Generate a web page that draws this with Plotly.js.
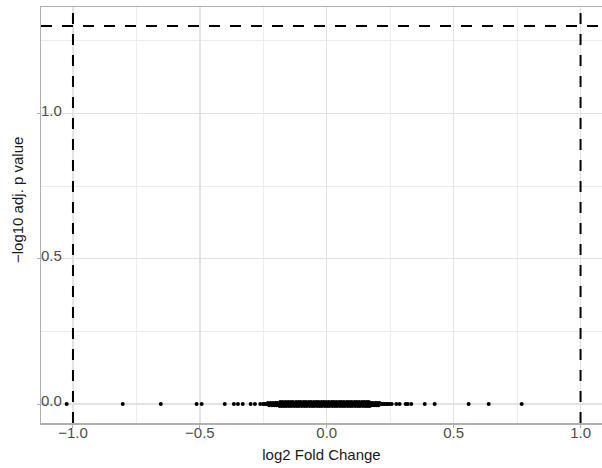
<!DOCTYPE html>
<html>
<head>
<meta charset="utf-8">
<script src="https://cdn.plot.ly/plotly-3.0.1.min.js"></script>
<style>html,body{margin:0;padding:0;overflow:hidden;background:#fff;}</style>
</head>
<body>
<div id="chart" style="width:602px;height:468px;"></div>
<script>
// Isolated genes (log2 fold change, -log10 adjusted p value)
const outlierFC = [-1.025, -0.804, -0.654, -0.513, -0.493, -0.402, -0.366, -0.350, -0.331, -0.300, -0.283, -0.262, -0.238,
                   0.256, 0.274, 0.287, 0.311, 0.319, 0.333, 0.386, 0.425, 0.559, 0.638, 0.768];
const outlierP  = [0, 0, 0, 0, 0, 0, 0, 0, 0, 0, 0, 0, 0,
                   0, 0, 0, 0, 0, 0, 0, 0, 0, 0, 0];
// Dense core of genes around zero (slightly jittered vertically)
const coreFC = [-0.251, -0.245, -0.239, -0.232, -0.227, -0.220, -0.214, -0.207, -0.201, -0.196, -0.188, -0.183, -0.175, -0.170, -0.163, -0.156, -0.151, -0.144, -0.138, -0.131, -0.124, -0.119, -0.112, -0.106, -0.099, -0.092, -0.087, -0.080, -0.074, -0.067, -0.060, -0.055, -0.048, -0.042, -0.035, -0.028, -0.023, -0.016, -0.010, -0.003, 0.004, 0.009, 0.016, 0.023, 0.030, 0.035, 0.042, 0.048, 0.055, 0.062, 0.067, 0.074, 0.080, 0.087, 0.094, 0.099, 0.106, 0.112, 0.119, 0.126, 0.131, 0.138, 0.144, 0.151, 0.158, 0.163, 0.170, 0.176, 0.183, 0.190, 0.195, 0.202, 0.208, 0.215, 0.222, 0.227, 0.234, 0.240, 0.247,
  -0.183, -0.173, -0.162, -0.152, -0.142, -0.133, -0.121, -0.111, -0.102, -0.091, -0.082, -0.071, -0.062, -0.051, -0.041, -0.032, -0.021, -0.012, -0.002, 0.008, 0.019, 0.028, 0.038, 0.049, 0.058, 0.068, 0.079, 0.088, 0.098, 0.109, 0.118, 0.128, 0.139, 0.148, 0.158, 0.166,
  -0.186, -0.177, -0.168, -0.159, -0.149, -0.139, -0.128, -0.118, -0.109, -0.098, -0.088, -0.079, -0.068, -0.058, -0.049, -0.038, -0.028, -0.019, -0.008, 0.002, 0.011, 0.022, 0.032, 0.041, 0.052, 0.062, 0.071, 0.082, 0.092, 0.101, 0.112, 0.122, 0.131, 0.142, 0.152, 0.161, 0.169,
  -0.232, -0.222, -0.212, -0.203, -0.194, 0.174, 0.181, 0.191, 0.199, 0.208,
  -0.227, -0.216, -0.206, -0.197, 0.177, 0.186, 0.195, 0.204];
const coreP = [0,0,0,0,0,0,0,0,0,0,0,0,0,0,0,0,0,0,0,0,0,0,0,0,0,0,0,0,0,0,0,0,0,0,0,0,0,0,0,0,0,0,0,0,0,0,0,0,0,0,0,0,0,0,0,0,0,0,0,0,0,0,0,0,0,0,0,0,0,0,0,0,0,0,0,0,0,0,0,
  0.007,0.007,0.007,0.007,0.007,0.007,0.007,0.007,0.007,0.007,0.007,0.007,0.007,0.007,0.007,0.007,0.007,0.007,0.007,0.007,0.007,0.007,0.007,0.007,0.007,0.007,0.007,0.007,0.007,0.007,0.007,0.007,0.007,0.007,0.007,0.007,
  -0.007,-0.007,-0.007,-0.007,-0.007,-0.007,-0.007,-0.007,-0.007,-0.007,-0.007,-0.007,-0.007,-0.007,-0.007,-0.007,-0.007,-0.007,-0.007,-0.007,-0.007,-0.007,-0.007,-0.007,-0.007,-0.007,-0.007,-0.007,-0.007,-0.007,-0.007,-0.007,-0.007,-0.007,-0.007,-0.007,-0.007,
  0.004,0.004,0.004,0.004,0.004,0.004,0.004,0.004,0.004,0.004,
  -0.004,-0.004,-0.004,-0.004,-0.004,-0.004,-0.004,-0.004];
// Thresholds
const fcCutoffs = [-1, 1];
const pCutoff = 1.301; // -log10(0.05)
const xTickVals = [-1, -0.5, 0, 0.5, 1];
const xTickText = ['\u22121.0', '\u22120.5', '0.0', '0.5', '1.0'];
const xMinorVals = [-0.75, -0.25, 0.25, 0.75];
const yTickVals = [0, 0.5, 1];
const yTickText = ['0.0', '0.5', '1.0'];
const yMinorVals = [0.25, 0.75, 1.25];

const allFC = outlierFC.concat(coreFC);
const allP = outlierP.concat(coreP);

const traces = [{
  type: 'scatter', mode: 'markers', x: allFC, y: allP,
  marker: {color: '#000000', size: 4, line: {width: 0}},
  hoverinfo: 'skip', cliponaxis: true
}];

const dash = '11px,10px';
const shapes = fcCutoffs.map(v => ({
  type: 'line', xref: 'x', yref: 'paper', x0: v, x1: v, y0: 0, y1: 1,
  line: {color: '#000000', width: 2, dash: dash}
}));
shapes.push({type: 'line', xref: 'paper', yref: 'y', x0: 0, x1: 1, y0: pCutoff, y1: pCutoff,
  line: {color: '#000000', width: 2, dash: dash}});

const gridMajor = '#E3E3E3';
const gridMinor = '#EDEDED';
const layout = {
  width: 602, height: 468,
  margin: {l: 41, r: 0, t: 7, b: 45},
  paper_bgcolor: '#ffffff', plot_bgcolor: '#ffffff',
  showlegend: false,
  font: {family: 'Liberation Sans, Arial, sans-serif', size: 15, color: '#4D4D4D'},
  xaxis: {
    range: [-1.126, 1.0845], tickvals: xTickVals, ticktext: xTickText,
    showgrid: true, gridcolor: gridMajor, gridwidth: 1.3, zeroline: false,
    minor: {tickmode: 'array', tickvals: xMinorVals, showgrid: true, gridcolor: gridMinor, gridwidth: 1, ticks: ''},
    showline: true, linecolor: '#B0B0B0', linewidth: 1.5, mirror: true,
    ticks: 'outside', ticklen: 3, tickcolor: '#B0B0B0', tickwidth: 1,
    ticklabelstandoff: -8,
    tickfont: {size: 15, color: '#4D4D4D'},
    title: {text: 'log2 Fold Change', font: {size: 15, color: '#1A1A1A'}, standoff: 10}
  },
  yaxis: {
    range: [-0.0651, 1.366], tickvals: yTickVals, ticktext: yTickText,
    showgrid: true, gridcolor: gridMajor, gridwidth: 1.3, zeroline: false,
    minor: {tickmode: 'array', tickvals: yMinorVals, showgrid: true, gridcolor: gridMinor, gridwidth: 1, ticks: ''},
    showline: true, linecolor: '#B0B0B0', linewidth: 1.5,
    ticks: 'outside', ticklen: 3, tickcolor: '#B0B0B0', tickwidth: 1,
    ticklabelposition: 'inside', ticklabelshift: -3,
    tickfont: {size: 15, color: '#4D4D4D'}
  },
  annotations: [{
    text: '\u2212log10 adj. p value', xref: 'paper', yref: 'paper', x: -0.0428, y: 0.536,
    xanchor: 'center', yanchor: 'middle', textangle: -90, showarrow: false,
    font: {size: 15, color: '#1A1A1A'}
  }],
  shapes: shapes
};

Plotly.newPlot('chart', traces, layout, {displayModeBar: false, staticPlot: true});
</script>
</body>
</html>
